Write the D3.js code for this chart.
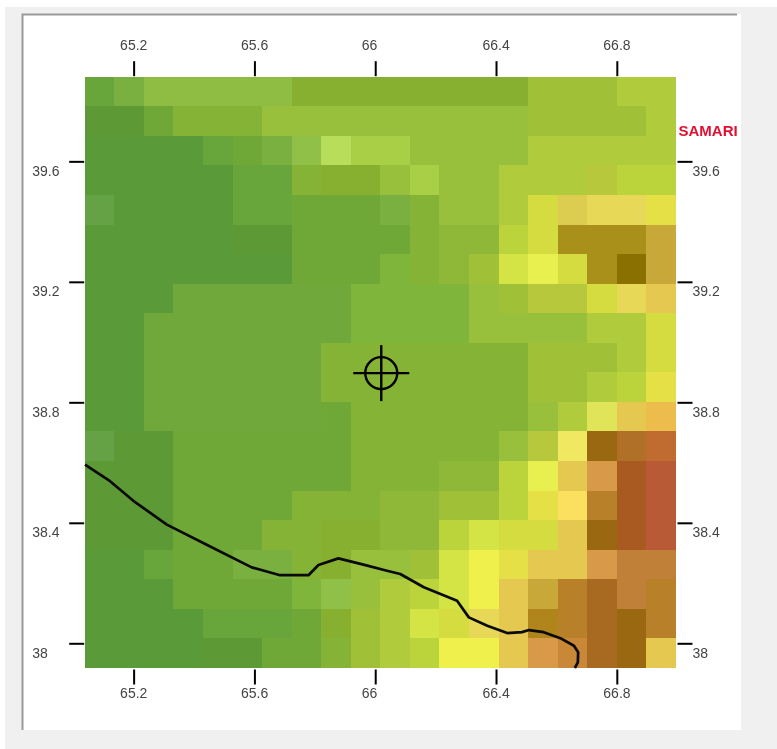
<html>
<head>
    <script src="https://d3js.org/d3.v7.min.js"></script>
</head>
<style>
body { margin: 0; background: #fff; }
text { font-family: "Liberation Sans", Arial, sans-serif; }
.axis text { font-size: 14px; fill: #444; }
.axis line { stroke: #000; stroke-width: 2; }
</style>
<body>
<script>
// colour classes of the raster, low to high
var classColors = [
  "#5a9a38","#5d9a36","#65a245","#68a63c","#70a838","#70a83c","#7ab040","#80b53c",
  "#84b335","#88b030","#90b838","#8fbd43","#90c048","#98c03c","#a0c038","#a8cf45",
  "#b0cc3c","#b8dd5a","#bcd43c","#b8c83c","#d4dc40","#d4e444","#e0e458","#e8f050",
  "#f0f04c","#e4e045","#e8d858","#e4c850","#ecbc4c","#d89a48","#c8a838","#c08038",
  "#b88028","#b07028","#a86a20","#a85a20","#b85a35","#a8901a","#8a7000","#9a6810",
  "#f0e860","#c06c30","#fbe060","#dccc50","#b0861c","#c88838"
];

// one row per 0.1 degree, north to south
var cells = [
  [3,6,11,11,11,11,11,9,9,9,9,9,9,9,9,14,14,14,16,16],
  [1,1,4,8,8,8,13,13,13,13,13,13,13,13,13,14,14,14,14,16],
  [0,0,0,0,3,4,6,12,17,15,15,13,13,13,13,16,16,16,16,16],
  [0,0,0,0,0,3,3,8,9,9,13,15,13,13,16,16,16,19,18,18],
  [2,0,0,0,0,3,3,4,4,4,6,8,13,13,16,20,43,26,26,25],
  [0,0,0,0,0,1,1,4,4,4,4,8,10,10,18,20,37,37,37,30],
  [0,0,0,0,0,0,0,4,4,4,7,8,10,14,21,23,20,37,38,30],
  [0,0,0,5,5,5,5,5,5,7,7,7,7,13,14,19,19,20,26,27],
  [0,0,5,5,5,5,5,5,5,7,7,7,7,13,13,13,13,16,16,20],
  [0,0,5,5,5,5,5,5,8,8,8,8,8,8,8,14,14,14,16,20],
  [0,0,5,5,5,5,5,5,8,8,8,8,8,8,8,14,14,16,18,25],
  [0,0,5,5,5,5,5,5,4,8,8,8,8,8,8,13,16,22,27,28],
  [2,1,1,4,4,4,4,4,4,8,8,8,8,8,13,19,40,39,33,41],
  [1,1,1,4,4,4,4,4,4,8,8,8,10,10,18,23,27,29,35,36],
  [1,1,1,4,4,4,4,8,8,8,10,10,14,14,18,25,42,32,35,36],
  [1,1,1,4,4,4,8,8,9,9,10,10,18,21,20,20,27,39,35,36],
  [0,0,3,4,4,6,6,8,9,13,13,14,21,24,25,27,27,29,31,31],
  [0,0,0,4,4,4,4,7,12,13,16,18,21,24,27,30,32,34,31,32],
  [0,0,0,0,3,3,3,4,9,14,16,21,20,26,27,44,32,34,39,32],
  [0,0,0,0,1,1,4,4,8,14,16,18,24,24,27,29,45,34,39,27]
];

var lonExtent = [65.038, 66.996];
var latExtent = [37.918, 39.881];
var lonTicks = [65.2, 65.6, 66, 66.4, 66.8];
var latTicks = [38, 38.4, 38.8, 39.2, 39.6];

// border line, [lon, lat]
var borderLine = [
  [65.039,38.593],[65.122,38.538],[65.199,38.473],[65.310,38.394],[65.442,38.327],
  [65.591,38.252],[65.685,38.226],[65.779,38.226],[65.812,38.260],[65.878,38.282],
  [65.961,38.261],[66.039,38.241],[66.083,38.230],[66.161,38.186],[66.271,38.141],
  [66.310,38.086],[66.371,38.058],[66.437,38.034],[66.486,38.037],[66.509,38.044],
  [66.558,38.037],[66.613,38.017],[66.658,37.992],[66.672,37.970],[66.671,37.937],
  [66.661,37.918]
];

var station = [66.02, 38.897];
var stationLabel = "SAMARI";
var stationLabelLat = 39.684;

var w = 777;
var h = 749;
var plot = { left: 84.7, right: 676, top: 76.7, bottom: 668 };

var svg = d3.select("body").append("svg").attr("width", w).attr("height", h)
  .style("display", "block").style("filter", "blur(0.4px)");

// window frame around the plot
svg.append("rect").attr("x", 5).attr("y", 7).attr("width", w - 5).attr("height", h - 7).attr("fill", "#f0f0f0");
svg.append("rect").attr("x", 22).attr("y", 14).attr("width", 719).attr("height", 716).attr("fill", "#fff");
svg.append("path").attr("d", "M22.5,730V14.5H737").attr("fill", "none").attr("stroke", "#999").attr("stroke-width", 2);

var x = d3.scaleLinear().domain(lonExtent).range([plot.left, plot.right]);
var y = d3.scaleLinear().domain(latExtent).range([plot.bottom, plot.top]);
var color = d3.scaleOrdinal().domain(d3.range(classColors.length)).range(classColors);

var colBand = d3.scaleBand().domain(d3.range(cells[0].length)).range([plot.left, plot.right]);
var rowBand = d3.scaleBand().domain(d3.range(cells.length)).range([plot.top, plot.bottom]);

svg.append("g").attr("shape-rendering", "crispEdges")
  .selectAll("g").data(cells).enter().append("g")
  .attr("transform", function(d, i){ return "translate(0," + rowBand(i) + ")"; })
  .selectAll("rect").data(function(d){ return d; }).enter().append("rect")
  .attr("x", function(d, i){ return colBand(i); })
  .attr("width", colBand.bandwidth())
  .attr("height", rowBand.bandwidth())
  .attr("fill", function(d){ return color(d); });

// border
var line = d3.line().x(function(d){ return x(d[0]); }).y(function(d){ return y(d[1]); });
svg.append("path").attr("d", line(borderLine)).attr("fill", "none").attr("stroke", "#0a0a0a")
  .attr("stroke-width", 2.7).attr("stroke-linejoin", "round");

// station marker
var sx = x(station[0]);
var sy = y(station[1]);
var marker = svg.append("g").attr("fill", "none").attr("stroke", "#000").attr("stroke-width", 2.4);
marker.append("circle").attr("cx", sx).attr("cy", sy).attr("r", 16);
marker.append("line").attr("x1", sx - 28).attr("x2", sx + 28).attr("y1", sy).attr("y2", sy);
marker.append("line").attr("x1", sx).attr("x2", sx).attr("y1", sy - 28).attr("y2", sy + 28);

// axes on all four sides; labels start a fixed way left of the tick
function lonAxis(axis, ty, labelY) {
  var g = svg.append("g").attr("class", "axis").attr("transform", "translate(0," + ty + ")")
    .call(axis.tickValues(lonTicks).tickSize(15).tickFormat(String));
  g.select(".domain").remove();
  g.selectAll("text").attr("text-anchor", "start").attr("x", -14).attr("y", labelY).attr("dy", 0);
}
function latAxis(axis, tx, labelX) {
  var g = svg.append("g").attr("class", "axis").attr("transform", "translate(" + tx + ",0)")
    .call(axis.tickValues(latTicks).tickSize(15).tickFormat(String));
  g.select(".domain").remove();
  g.selectAll("text").attr("text-anchor", "start").attr("x", labelX).attr("dy", 14);
}
lonAxis(d3.axisTop(x), plot.top - 0.5, -26);
lonAxis(d3.axisBottom(x), plot.bottom + 1.5, 28.5);
latAxis(d3.axisLeft(y), plot.left - 0.5, -52);
latAxis(d3.axisRight(y), plot.right + 1.5, 15);

// station name runs off the panel edge
svg.append("clipPath").attr("id", "panel").append("rect").attr("x", 0).attr("y", 0).attr("width", 737).attr("height", h);
svg.append("text").attr("clip-path", "url(#panel)")
  .attr("x", plot.right + 2.5).attr("y", y(stationLabelLat))
  .attr("font-size", 15).attr("font-weight", "bold").attr("fill", "#e01030")
  .text(stationLabel);
</script>
</body>
</html>
